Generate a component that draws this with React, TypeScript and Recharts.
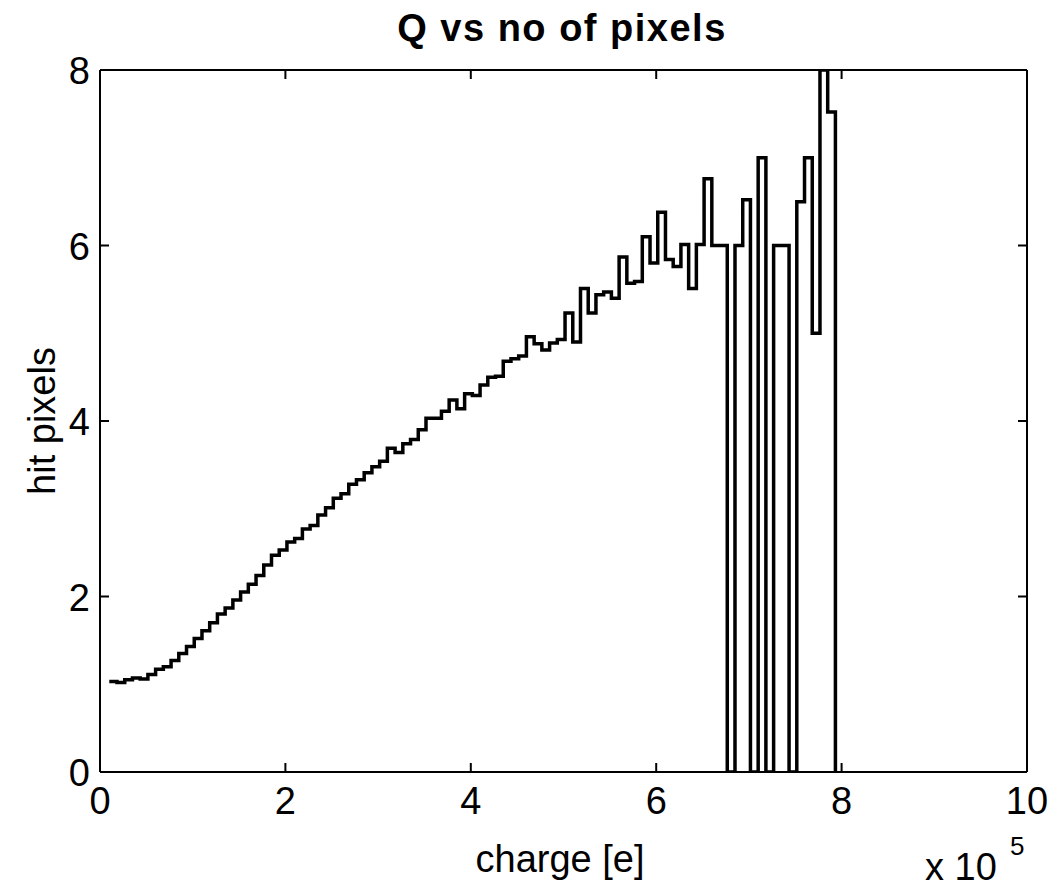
import { LineChart, Line, XAxis, YAxis } from "recharts";

// hit pixels per charge bin (bin width 1/12 x 10^5 e, first bin starts at 0.1 x 10^5 e)
const binStart = 0.1;
const binWidth = 1 / 12;
const hitPixels = [
  1.03, 1.02, 1.05, 1.07, 1.06, 1.11, 1.17, 1.2, 1.27, 1.35,
  1.43, 1.52, 1.61, 1.7, 1.8, 1.87, 1.96, 2.05, 2.14, 2.24,
  2.36, 2.47, 2.53, 2.62, 2.66, 2.77, 2.81, 2.93, 3.01, 3.12,
  3.17, 3.28, 3.33, 3.41, 3.48, 3.54, 3.69, 3.64, 3.74, 3.79,
  3.9, 4.03, 4.03, 4.11, 4.24, 4.14, 4.31, 4.29, 4.41, 4.5,
  4.51, 4.68, 4.71, 4.74, 4.96, 4.88, 4.81, 4.89, 4.93, 5.23,
  4.9, 5.51, 5.23, 5.44, 5.47, 5.4, 5.87, 5.57, 5.59, 6.1,
  5.8, 6.38, 5.84, 5.76, 6.01, 5.51, 6.01, 6.76, 6.0, 6.0,
  0, 6.0, 6.52, 0, 7.0, 0, 6.0, 6.0, 0, 6.5,
  7.0, 5.0, 8.0, 7.52,
];

const xTicks = [0, 2, 4, 6, 8, 10];
const yTicks = [0, 2, 4, 6, 8];

const data = [
  ...hitPixels.map((n, i) => ({ q: binStart + i * binWidth, n })),
  { q: binStart + hitPixels.length * binWidth, n: 0 },
];

const W = 1050;
const H = 884;
// top / right axes are 1px thick (a 0-sized axis is not drawn)
const M = { top: 61, right: 30, bottom: 60, left: 32 };
const plotLeft = 92;
const plotTop = 62;
const plotRight = 1019;
const plotBottom = 764;
const font = "'Liberation Sans', Arial, Helvetica, sans-serif";
const tickLen = 9;

const BottomTick = (props: any) => {
  const { x, payload } = props;
  return (
    <g>
      <line x1={x} x2={x} y1={plotBottom} y2={plotBottom - tickLen} stroke="#000" strokeWidth={2} />
      <text x={x} y={plotBottom + 42} textAnchor="middle" fontSize={38} fontFamily={font} fill="#000">
        {payload.value}
      </text>
    </g>
  );
};

const TopTick = (props: any) => {
  const { x } = props;
  return <line x1={x} x2={x} y1={plotTop} y2={plotTop + tickLen} stroke="#000" strokeWidth={2} />;
};

const LeftTick = (props: any) => {
  const { y, payload } = props;
  return (
    <g>
      <line x1={plotLeft} x2={plotLeft + tickLen} y1={y} y2={y} stroke="#000" strokeWidth={2} />
      <text x={plotLeft - 10} y={y + 14} textAnchor="end" fontSize={38} fontFamily={font} fill="#000">
        {payload.value}
      </text>
    </g>
  );
};

const RightTick = (props: any) => {
  const { y } = props;
  return <line x1={plotRight} x2={plotRight - tickLen} y1={y} y2={y} stroke="#000" strokeWidth={2} />;
};

export default function App() {
  return (
    <div style={{ width: W, height: H, background: "#fff" }}>
      <LineChart width={W} height={H} data={data} margin={M}>
        <XAxis
          dataKey="q"
          type="number"
          domain={[0, 10]}
          ticks={xTicks}
          height={60}
          tickLine={false}
          tick={<BottomTick />}
          axisLine={{ stroke: "#000", strokeWidth: 2 }}
          interval={0}
        />
        <XAxis
          xAxisId="top"
          orientation="top"
          dataKey="q"
          type="number"
          domain={[0, 10]}
          ticks={xTicks}
          height={1}
          tickLine={false}
          tick={<TopTick />}
          axisLine={{ stroke: "#000", strokeWidth: 2 }}
          interval={0}
        />
        <YAxis
          type="number"
          domain={[0, 8]}
          ticks={yTicks}
          width={60}
          tickLine={false}
          tick={<LeftTick />}
          axisLine={{ stroke: "#000", strokeWidth: 2 }}
          allowDataOverflow
          interval={0}
        />
        <YAxis
          yAxisId="right"
          orientation="right"
          type="number"
          domain={[0, 8]}
          ticks={yTicks}
          width={1}
          tickLine={false}
          tick={<RightTick />}
          axisLine={{ stroke: "#000", strokeWidth: 2 }}
          allowDataOverflow
          interval={0}
        />
        {/* invisible copy bound to the top/right axes */}
        <Line
          xAxisId="top"
          yAxisId="right"
          type="stepAfter"
          dataKey="n"
          stroke="none"
          strokeOpacity={0}
          dot={false}
          activeDot={false}
          isAnimationActive={false}
        />
        <Line
          type="stepAfter"
          dataKey="n"
          stroke="#000"
          strokeWidth={3.5}
          dot={false}
          isAnimationActive={false}
        />
        <text
          x={554}
          y={33}
          textAnchor="middle"
          fontSize={38}
          fontWeight="bold"
          letterSpacing={1.5}
          fontFamily={font}
          fill="#000"
        >
          Q vs no of pixels
        </text>
        <text x={552} y={864} textAnchor="middle" fontSize={38} fontFamily={font} fill="#000">
          charge [e]
        </text>
        <text
          x={47}
          y={413}
          textAnchor="middle"
          fontSize={38}
          fontFamily={font}
          fill="#000"
          transform="rotate(-90 47 413)"
        >
          hit pixels
        </text>
        <text x={917} y={872} fontSize={38} fontFamily={font} fill="#000">
          x 10
        </text>
        <text x={1002} y={847} fontSize={26} fontFamily={font} fill="#000">
          5
        </text>
      </LineChart>
    </div>
  );
}
